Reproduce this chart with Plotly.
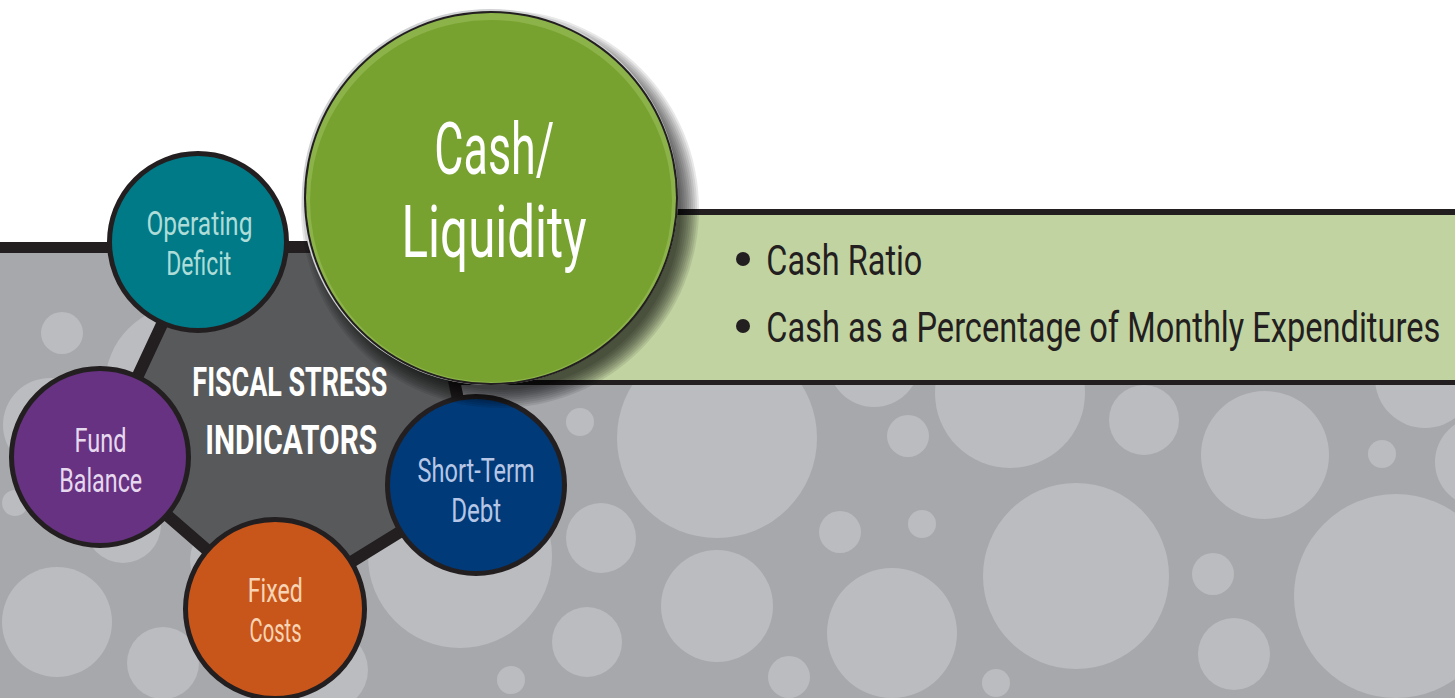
import json
import plotly.graph_objects as go

# ---------------- data ----------------
indicator_names = ["Operating Deficit", "Cash/ Liquidity", "Short-Term Debt", "Fixed Costs", "Fund Balance"]
indicator_lines = [["Operating", "Deficit"], ["Cash/", "Liquidity"], ["Short-Term", "Debt"], ["Fixed", "Costs"], ["Fund", "Balance"]]
indicator_fill = ["#007a87", "#78a22f", "#003a78", "#c8561b", "#663281"]
indicator_text = ["#aedcd8", "#ffffff", "#b6c6e6", "#f8d4b4", "#e6d8ee"]
center_title = ["FISCAL STRESS", "INDICATORS"]
bullet_items = ["Cash Ratio", "Cash as a Percentage of Monthly Expenditures"]

# ---------------- layout geometry (pixels) ----------------
W, H = 1455, 698
circle_cx = [198, 490, 476, 275, 100]
circle_cy = [242, 197, 485, 609, 457]
circle_r = [91, 187, 91, 92, 91]
label_y = [[223, 263], [149, 232], [470, 510], [590, 630], [440, 480]]
label_x = [199, 494, 476, 275, 100]
label_size = [33, 72, 33, 33, 33]
label_width = [[106, 65], [120, 185], [117, 50], [55, 52], [52, 83]]
title_y = [382, 440]
title_x = [290, 291]
title_width = [195, 172]
polygon_pts = [(198, 247), (426, 247), (476, 485), (275, 609), (100, 457)]
bullet_y = [260, 327]
bullet_left = 766
bullet_width = [156, 674]
bullet_size = 33
bullet_vscale = 42 / 33
bullets = [(743, 259), (743, 326)]
bubbles = [
    (62, 333, 21), (185, 385, 80), (50, 425, 47), (15, 503, 13), (123, 525, 38),
    (57, 622, 55), (163, 663, 36), (230, 560, 40), (460, 556, 92), (328, 670, 40),
    (511, 680, 14), (580, 422, 14), (601, 538, 35), (587, 642, 35), (717, 606, 56),
    (717, 438, 100), (874, 361, 46), (908, 436, 21), (922, 524, 14), (840, 532, 21),
    (789, 677, 21), (892, 633, 65), (1010, 393, 75), (1144, 420, 35), (1076, 576, 93),
    (996, 683, 14), (1213, 574, 21), (1234, 654, 36), (1265, 455, 64), (1382, 454, 14),
    (1425, 378, 50), (1480, 462, 45), (1396, 596, 102),
]

BLACK = "#231f20"
GRAY = "#a7a8ab"
LIGHT = "#bbbcbf"
DARK = "#58595b"
BAND = "#c2d3a2"
FONT = "Roboto, Lato, Inter, sans-serif"

shapes = []


def rect(x0, y0, x1, y1, color):
    shapes.append(dict(type="rect", xref="x", yref="y", x0=x0, y0=y0, x1=x1, y1=y1,
                       fillcolor=color, line=dict(width=0), layer="above"))


def circ(cx, cy, r, color, lw=0, lc=BLACK, opacity=1.0):
    shapes.append(dict(type="circle", xref="x", yref="y", x0=cx - r, y0=cy - r, x1=cx + r, y1=cy + r,
                       fillcolor=color, line=dict(width=lw, color=lc), opacity=opacity, layer="above"))


# background
rect(0, 247, W, H, GRAY)
for bx, by, br in bubbles:
    circ(bx, by, br, LIGHT)
rect(0, 0, W, 247, "#ffffff")

# green band
rect(460, 209, W, 385, BLACK)
rect(460, 215, W, 380, BAND)

# black horizontal bar
rect(0, 242, 440, 253, BLACK)

# central polygon
path = "M " + " L ".join(f"{x},{y}" for x, y in polygon_pts) + " Z"
shapes.append(dict(type="path", xref="x", yref="y", path=path, fillcolor=DARK,
                   line=dict(color=BLACK, width=12), layer="above"))

# small indicator circles
for i in [0, 2, 3, 4]:
    circ(circle_cx[i], circle_cy[i], circle_r[i] - 2.5, indicator_fill[i], lw=5)

# green circle shadow
gx, gy, gr = circle_cx[1], circle_cy[1], circle_r[1]
for k in range(10):
    circ(gx + 10, gy + 12, gr + 12 - 2 * k, "#000000", opacity=0.09)
# green circle with bevel
circ(gx, gy, gr + 1, "#d0d2d3")
circ(gx + 1, gy + 1, gr, BLACK)
circ(gx + 1, gy + 1, gr - 2, "#8cb34a")
circ(gx + 1, gy + 4, gr - 6, indicator_fill[1])

# bullet dots
for bx, by in bullets:
    circ(bx, by, 7, BLACK)

annotations = []
target_widths = []
vscales = []


def text(x, y, s, size, color, width, bold=False, vscale=1.0):
    annotations.append(dict(x=x, y=y, xref="x", yref="y", text=s, showarrow=False,
                            xanchor="center", yanchor="middle",
                            font=dict(family=FONT, size=size, color=color,
                                      weight="bold" if bold else "normal")))
    target_widths.append(width)
    vscales.append(vscale)


for i, lines in enumerate(indicator_lines):
    for j, ln in enumerate(lines):
        text(label_x[i], label_y[i][j], ln, label_size[i], indicator_text[i], label_width[i][j])

for j, ln in enumerate(center_title):
    text(title_x[j], title_y[j], ln, 40, "#ffffff", title_width[j], bold=True)

for j, item in enumerate(bullet_items):
    text(bullet_left + bullet_width[j] / 2, bullet_y[j], item, bullet_size, BLACK, bullet_width[j],
         vscale=bullet_vscale)

fig = go.Figure()
fig.add_trace(go.Scatter(x=[0, W], y=[0, H], mode="markers", marker=dict(opacity=0), hoverinfo="skip",
                         showlegend=False))
fig.update_layout(
    width=W, height=H, margin=dict(l=0, r=0, t=0, b=0),
    paper_bgcolor="#ffffff", plot_bgcolor="#ffffff",
    xaxis=dict(range=[0, W], visible=False, fixedrange=True),
    yaxis=dict(range=[H, 0], visible=False, fixedrange=True),
    shapes=shapes, annotations=annotations, showlegend=False,
)

# fit the glyphs to the reference's condensed typeface (text stays real SVG text)
post = (
    "document.body.style.margin='0';document.body.style.overflow='hidden';"
    "var tw=" + json.dumps(target_widths) + ";"
    "var vs=" + json.dumps(vscales) + ";"
    "var gs=document.querySelectorAll('g.annotation');"
    "gs.forEach(function(g,k){var idx=parseInt(g.getAttribute('data-index'));if(isNaN(idx))idx=k;"
    "var t=g.querySelector('text.annotation-text');if(!t)return;"
    "if(tw[idx]){t.setAttribute('textLength',tw[idx]);t.setAttribute('lengthAdjust','spacingAndGlyphs');}"
    "if(vs[idx]&&vs[idx]!==1){var b=t.getBBox();var cy=b.y+b.height/2;"
    "t.setAttribute('transform','translate(0,'+cy+') scale(1,'+vs[idx]+') translate(0,'+(-cy)+')');}"
    "});"
)
fig.write_html("out.html", config={"displayModeBar": False}, post_script=post)
